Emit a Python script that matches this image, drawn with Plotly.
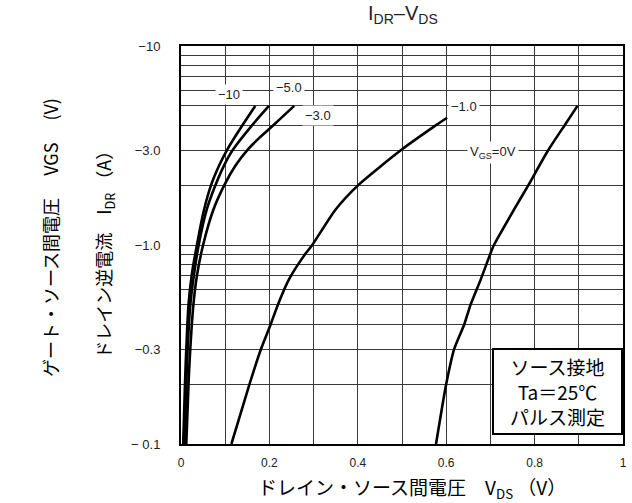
import math

import plotly.graph_objects as go

# ---- data (|I_DR| in A vs V_DS in V) ----
vds_m10 = [0.005, 0.009, 0.012, 0.017, 0.024, 0.036, 0.052, 0.068, 0.086, 0.104, 0.139, 0.168]
idr_m10 = [0.1, 0.2, 0.3, 0.5, 0.7, 1.0, 1.5, 2.0, 2.5, 3.0, 4.0, 5.0]

vds_m5 = [0.008, 0.012, 0.015, 0.021, 0.029, 0.040, 0.058, 0.078, 0.097, 0.117, 0.161, 0.199]
idr_m5 = [0.1, 0.2, 0.3, 0.5, 0.7, 1.0, 1.5, 2.0, 2.5, 3.0, 4.0, 5.0]

vds_m3 = [0.012, 0.017, 0.021, 0.028, 0.036, 0.050, 0.073, 0.098, 0.123, 0.150, 0.180, 0.209, 0.256]
idr_m3 = [0.1, 0.2, 0.3, 0.5, 0.7, 1.0, 1.5, 2.0, 2.5, 3.0, 3.5, 4.0, 5.0]

vds_m1 = [0.114, 0.155, 0.181, 0.203, 0.219, 0.244, 0.281, 0.297, 0.349, 0.401, 0.498, 0.577, 0.602]
idr_m1 = [0.1, 0.2, 0.3, 0.4, 0.5, 0.67, 0.9, 1.0, 1.5, 2.0, 3.0, 4.0, 4.36]

vds_0 = [0.577, 0.600, 0.618, 0.641, 0.655, 0.678, 0.702, 0.708, 0.753, 0.786, 0.831, 0.868, 0.897]
idr_0 = [0.1, 0.2, 0.3, 0.4, 0.5, 0.67, 0.93, 1.0, 1.5, 2.0, 3.0, 4.0, 5.0]

curves = [(vds_m10, idr_m10), (vds_m5, idr_m5), (vds_m3, idr_m3), (vds_m1, idr_m1), (vds_0, idr_0)]
smooth = [1.0, 1.0, 1.0, 0.6, 0.6]

# curve labels and their anchor points (V_DS, |I_DR|)
curve_labels = ["−10", "−5.0", "−3.0", "−1.0", "V<sub>GS</sub>=0V"]
label_vds = [0.108, 0.245, 0.310, 0.640, 0.705]
label_idr = [5.68, 6.22, 4.45, 4.94, 2.93]

x_ticks = [0, 0.1, 0.2, 0.3, 0.4, 0.5, 0.6, 0.7, 0.8, 0.9, 1.0]
x_ticktext = ["0", "", "0.2", "", "0.4", "", "0.6", "", "0.8", "", "1"]

y_grid = [m * d for d in (0.1, 1.0) for m in range(1, 10)] + [10]
y_labels = {0.1: "− 0.1", 0.3: "−0.3", 1.0: "−1.0", 3.0: "−3.0", 10: "−10"}

FONT = "Liberation Sans, Arial, Noto Sans CJK JP, sans-serif"
JP = "Noto Sans CJK JP, Liberation Sans, sans-serif"
INK = "#222222"
GRID = "#3a3a3a"

fig = go.Figure()
for (vx, iy), sm in zip(curves, smooth):
    fig.add_trace(go.Scatter(
        x=vx, y=iy, mode="lines",
        line=dict(color="black", width=2.6, shape="spline", smoothing=sm),
        showlegend=False, hoverinfo="skip",
    ))

for txt, lx, ly in zip(curve_labels, label_vds, label_idr):
    fig.add_annotation(
        x=lx, y=math.log10(ly), xref="x", yref="y", text=txt, showarrow=False,
        xanchor="center", yanchor="middle",
        font=dict(family=FONT, size=13, color=INK),
        bgcolor="white", borderpad=2,
    )

# condition box
fig.add_annotation(
    x=0.851, y=0.132, xref="paper", yref="paper",
    xanchor="center", yanchor="middle",
    text="ソース接地<br>Ta＝25℃<br>パルス測定", showarrow=False,
    font=dict(family=JP, size=19, color="black"),
    bgcolor="white", bordercolor="black", borderwidth=2,
    width=125, height=81, align="center",
)

# titles
fig.add_annotation(
    x=0.502, y=1.078, xref="paper", yref="paper", xanchor="center", yanchor="middle",
    text="I<sub>DR</sub>–V<sub>DS</sub>", showarrow=False,
    font=dict(family=FONT, size=20, color=INK),
)
fig.add_annotation(
    x=0.522, y=-0.111, xref="paper", yref="paper", xanchor="center", yanchor="middle",
    text="ドレイン・ソース間電圧　V<sub>DS</sub> （V）", showarrow=False,
    font=dict(family=JP, size=19, color="black"),
)
fig.add_annotation(
    x=-0.296, y=0.518, xref="paper", yref="paper", textangle=-90,
    xanchor="center", yanchor="middle",
    text="ゲート・ソース間電圧　 VGS　 (V)", showarrow=False,
    font=dict(family=JP, size=18, color="black"),
)
fig.add_annotation(
    x=-0.173, y=0.487, xref="paper", yref="paper", textangle=-90,
    xanchor="center", yanchor="middle",
    text="ドレイン逆電流　I<sub>DR</sub> （A）", showarrow=False,
    font=dict(family=JP, size=18, color="black"),
)

fig.update_layout(
    width=632, height=503,
    margin=dict(l=181, r=5, t=46, b=59),
    paper_bgcolor="white", plot_bgcolor="white",
    font=dict(family=FONT, size=12, color=INK),
)
fig.update_xaxes(
    range=[0, 1], tickvals=x_ticks, ticktext=x_ticktext,
    showgrid=True, gridcolor=GRID, gridwidth=1, zeroline=False,
    showline=True, linecolor="black", linewidth=2, mirror=True,
    ticks="", ticklabelstandoff=7,
    tickfont=dict(family=FONT, size=12, color=INK),
)
fig.update_yaxes(
    type="log", range=[-1, 1],
    tickvals=y_grid, ticktext=[y_labels.get(round(v, 3), "") for v in y_grid],
    showgrid=True, gridcolor=GRID, gridwidth=1, zeroline=False,
    showline=True, linecolor="black", linewidth=2, mirror=True,
    ticks="", ticklabelstandoff=16,
    tickfont=dict(family=FONT, size=13, color=INK),
)

# drop the browser's default 8px body margin so the figure sits at (0, 0)
fig.write_html(
    "out.html",
    config={"displayModeBar": False},
    post_script="document.body.style.margin='0';",
)
